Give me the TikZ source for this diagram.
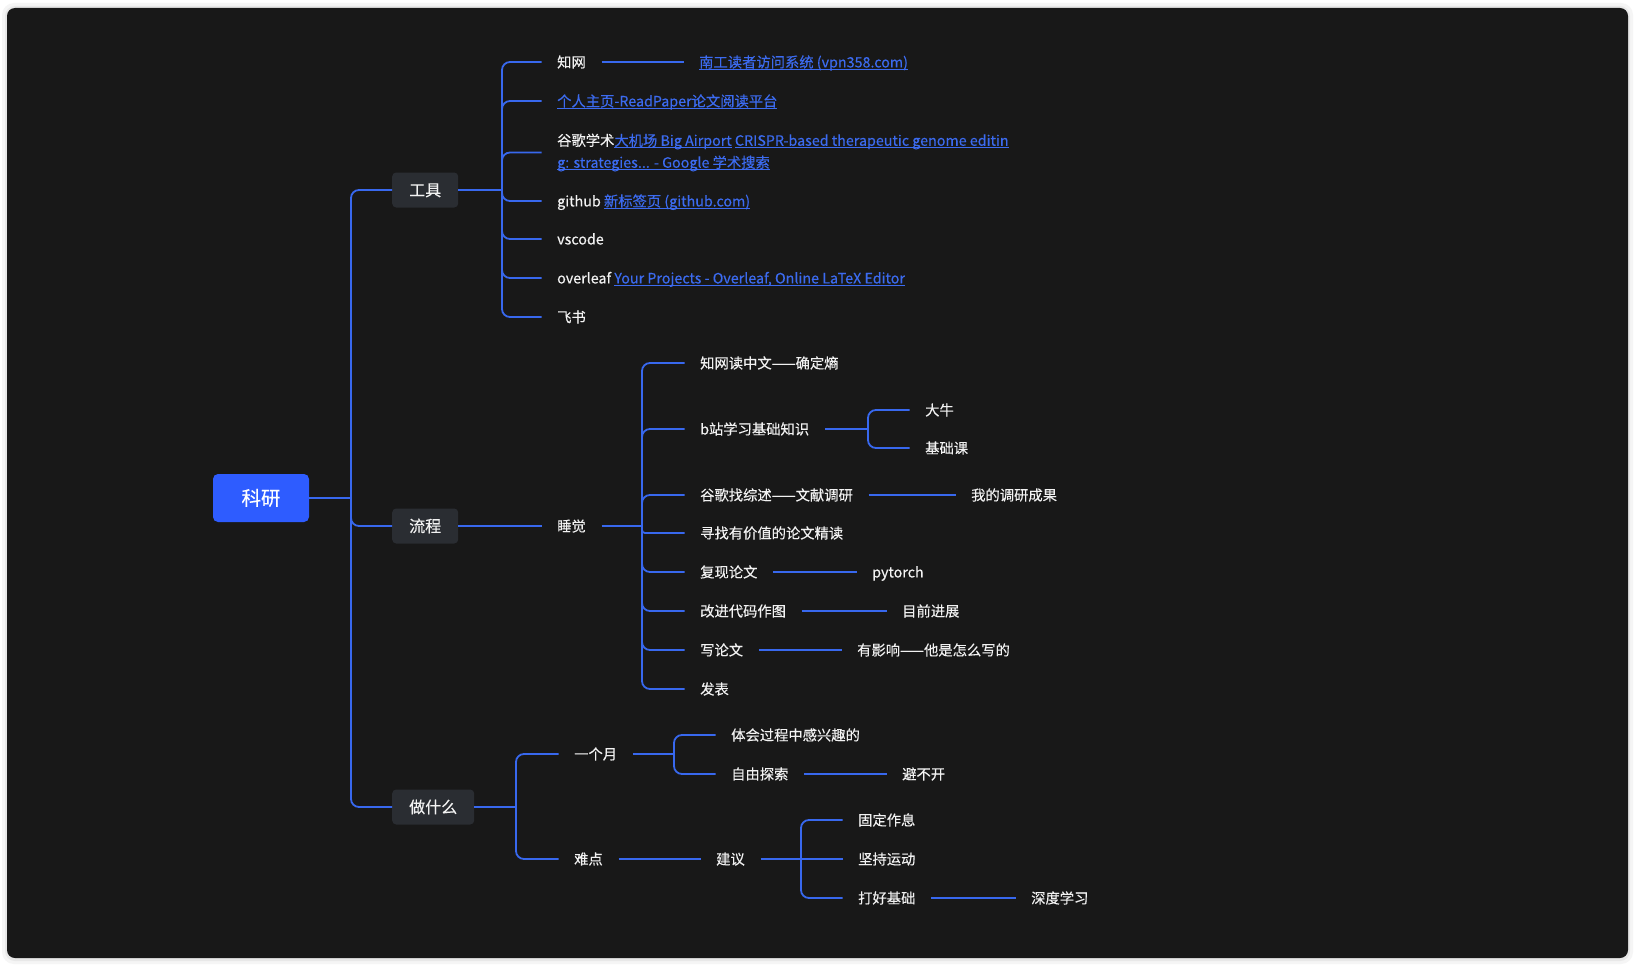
\documentclass[tikz,border=0pt]{standalone}
\usepackage{fontspec}
\setmainfont{Noto Sans CJK SC}[FakeBold=0.3]
\definecolor{panelc}{HTML}{181818}
\definecolor{wirec}{HTML}{3868EE}
\definecolor{rootc}{HTML}{2E5CFF}
\definecolor{boxc}{HTML}{2A2D32}
\definecolor{linkc}{HTML}{3C6BF0}
\definecolor{txtc}{HTML}{F2F2F2}
\newcommand{\lk}[1]{{\color{linkc}\setbox0\hbox{#1}\rlap{\rule[-2.5pt]{\wd0}{1pt}}\box0}}
\tikzset{
 wire/.style={draw=wirec, line width=1.8pt},
 brw/.style={wire, rounded corners=8pt},
 lbl/.style={anchor=west, inner xsep=15.5pt, inner ysep=0pt, text=txtc, font=\fontsize{14.3}{22}\selectfont, text height=12.6pt, text depth=1.7pt},
 lbltwo/.style={anchor=west, inner xsep=15.5pt, inner ysep=0pt, text=txtc, font=\fontsize{14.3}{22}\selectfont, align=left},
 tbox/.style={anchor=west, fill=boxc, rounded corners=4pt, text=txtc, font=\fontsize{16}{16}\selectfont, minimum height=35pt, inner xsep=17pt, inner ysep=0pt, text height=14pt, text depth=2pt},
 rootbox/.style={fill=rootc, rounded corners=5pt, text=white, font=\fontsize{19.5}{20}\selectfont, minimum width=96pt, minimum height=48pt, inner sep=0pt, text height=17pt, text depth=2.5pt},
}
\begin{document}
\begin{tikzpicture}[x=1pt,y=-1pt]
\useasboundingbox (0,0) rectangle (1636,966);
\fill[white] (0,0) rectangle (1636,966);
\fill[black!4, rounded corners=12pt] (2,3) rectangle (1633,964);
\fill[black!9, rounded corners=10pt] (5,6) rectangle (1630,961);
\fill[panelc, rounded corners=8pt] (7,8) rectangle (1628,958);

% root and first level
\node[rootbox] (ky) at (261,498) {科研};
\coordinate (J0) at (351,498);
\node[tbox] (gj) at (392,190) {工具};
\node[tbox] (lc) at (392,526) {流程};
\node[tbox] (zsm) at (392,807) {做什么};

% 工具
\coordinate (J1) at (502,190);
\node[lbl] (zw) at (541.5,62) {知网};
\node[lbl] (zwl) at (683.5,62) {\lk{南工读者访问系统 (vpn358.com)}};
\node[lbl] (rp) at (541.5,101) {\lk{个人主页-ReadPaper论文阅读平台}};
\node[lbltwo] (gg) at (541.5,152.5) {谷歌学术\lk{大机场 Big Airport} \lk{CRISPR-based therapeutic genome editin}\\\lk{g: strategies... - Google 学术搜索}};
\node[lbl] (gh) at (541.5,201) {github \lk{新标签页 (github.com)}};
\node[lbl] (vs) at (541.5,239) {vscode};
\node[lbl] (ol) at (541.5,278) {overleaf \lk{Your Projects - Overleaf, Online LaTeX Editor}};
\node[lbl] (fs) at (541.5,317) {飞书};

% 流程
\node[lbl] (sj) at (541.5,526) {睡觉};
\coordinate (J2) at (642,526);
\node[lbl] (a1) at (684.5,363) {知网读中文——确定熵};
\node[lbl] (a2) at (684.5,429) {b站学习基础知识};
\coordinate (J3) at (868,429);
\node[lbl] (a21) at (909.5,410) {大牛};
\node[lbl] (a22) at (909.5,448) {基础课};
\node[lbl] (a3) at (684.5,495) {谷歌找综述——文献调研};
\node[lbl] (a31) at (955.5,495) {我的调研成果};
\node[lbl] (a4) at (684.5,533) {寻找有价值的论文精读};
\node[lbl] (a5) at (684.5,572) {复现论文};
\node[lbl] (a51) at (856.5,572) {pytorch};
\node[lbl] (a6) at (684.5,611) {改进代码作图};
\node[lbl] (a61) at (886.5,611) {目前进展};
\node[lbl] (a7) at (684.5,650) {写论文};
\node[lbl] (a71) at (841.5,650) {有影响——他是怎么写的};
\node[lbl] (a8) at (684.5,689) {发表};

% 做什么
\coordinate (J4) at (516,807);
\node[lbl] (b1) at (558.5,754) {一个月};
\coordinate (J5) at (674,754);
\node[lbl] (b11) at (715.5,735) {体会过程中感兴趣的};
\node[lbl] (b12) at (715.5,774) {自由探索};
\node[lbl] (b121) at (886.5,774) {避不开};
\node[lbl] (b2) at (558.5,859) {难点};
\node[lbl] (b21) at (700.5,859) {建议};
\coordinate (J6) at (801,859);
\node[lbl] (c1) at (842.5,820) {固定作息};
\node[lbl] (c2) at (842.5,859) {坚持运动};
\node[lbl] (c3) at (842.5,898) {打好基础};
\node[lbl] (c31) at (1015.5,898) {深度学习};

% connectors
\draw[wire] (ky.east) -- (J0);
\foreach \n in {gj,lc,zsm} \draw[brw] (J0) |- (\n.west);
\draw[wire] (gj.east) -- (J1);
\foreach \n in {zw,rp,gg,gh,vs,ol,fs} \draw[brw] (J1) |- (\n.west);
\draw[wire] (zw.east) -- (zwl.west);

\draw[wire] (lc.east) -- (sj.west);
\draw[wire] (sj.east) -- (J2);
\foreach \n in {a1,a2,a3,a5,a6,a7,a8} \draw[brw] (J2) |- (\n.west);
\draw[wire, rounded corners=3pt] (J2) |- (a4.west);
\draw[wire] (a2.east) -- (J3);
\foreach \n in {a21,a22} \draw[brw] (J3) |- (\n.west);
\draw[wire] (a3.east) -- (a31.west);
\draw[wire] (a5.east) -- (a51.west);
\draw[wire] (a6.east) -- (a61.west);
\draw[wire] (a7.east) -- (a71.west);

\draw[wire] (zsm.east) -- (J4);
\foreach \n in {b1,b2} \draw[brw] (J4) |- (\n.west);
\draw[wire] (b1.east) -- (J5);
\foreach \n in {b11,b12} \draw[brw] (J5) |- (\n.west);
\draw[wire] (b12.east) -- (b121.west);
\draw[wire] (b2.east) -- (b21.west);
\draw[wire] (b21.east) -- (J6);
\draw[wire] (J6) -- (c2.west);
\foreach \n in {c1,c3} \draw[brw] (J6) |- (\n.west);
\draw[wire] (c3.east) -- (c31.west);
\end{tikzpicture}
\end{document}
